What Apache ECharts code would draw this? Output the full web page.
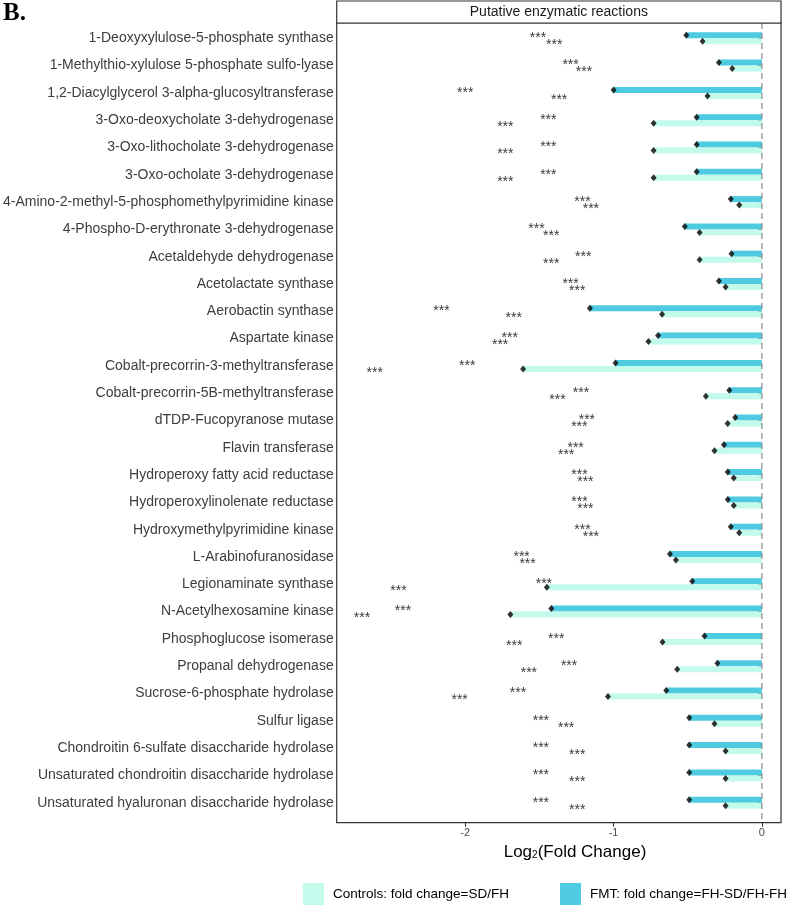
<!DOCTYPE html>
<html>
<head>
<meta charset="utf-8">
<script src="https://cdn.jsdelivr.net/npm/echarts@6/dist/echarts.min.js"></script>
<style>html,body{margin:0;padding:0;background:#fff}#c{width:792px;height:906px}</style>
</head>
<body>
<div id="c"></div>
<script>
const categories = [
  '1-Deoxyxylulose-5-phosphate synthase',
  '1-Methylthio-xylulose 5-phosphate sulfo-lyase',
  '1,2-Diacylglycerol 3-alpha-glucosyltransferase',
  '3-Oxo-deoxycholate 3-dehydrogenase',
  '3-Oxo-lithocholate 3-dehydrogenase',
  '3-Oxo-ocholate 3-dehydrogenase',
  '4-Amino-2-methyl-5-phosphomethylpyrimidine kinase',
  '4-Phospho-D-erythronate 3-dehydrogenase',
  'Acetaldehyde dehydrogenase',
  'Acetolactate synthase',
  'Aerobactin synthase',
  'Aspartate kinase',
  'Cobalt-precorrin-3-methyltransferase',
  'Cobalt-precorrin-5B-methyltransferase',
  'dTDP-Fucopyranose mutase',
  'Flavin transferase',
  'Hydroperoxy fatty acid reductase',
  'Hydroperoxylinolenate reductase',
  'Hydroxymethylpyrimidine kinase',
  'L-Arabinofuranosidase',
  'Legionaminate synthase',
  'N-Acetylhexosamine kinase',
  'Phosphoglucose isomerase',
  'Propanal dehydrogenase',
  'Sucrose-6-phosphate hydrolase',
  'Sulfur ligase',
  'Chondroitin 6-sulfate disaccharide hydrolase',
  'Unsaturated chondroitin disaccharide hydrolase',
  'Unsaturated hyaluronan disaccharide hydrolase'
];
const fmtValues = [
  -0.51, -0.29, -1.00, -0.44, -0.44, -0.44, -0.21, -0.52, -0.205, -0.29,
  -1.16, -0.70, -0.987, -0.22, -0.18, -0.256, -0.23, -0.23, -0.21, -0.62,
  -0.47, -1.42, -0.387, -0.30, -0.645, -0.49, -0.49, -0.49, -0.49
];
const controlValues = [
  -0.40, -0.20, -0.367, -0.73, -0.73, -0.73, -0.153, -0.42, -0.42, -0.245,
  -0.673, -0.765, -1.61, -0.378, -0.231, -0.32, -0.19, -0.19, -0.153, -0.58,
  -1.45, -1.696, -0.67, -0.571, -1.038, -0.32, -0.245, -0.245, -0.245
];
const xTicks = [-2, -1, 0];
const sigLabel = '***';
const STAR_SHIFT = 1; // significance marks drawn 1 log2 unit left of each value
const seriesNames = ['Controls: fold change=SD/FH', 'FMT: fold change=FH-SD/FH-FH'];

const LIGHT = '#c2faec';
const DARK = '#4ecbe0';
const FONT = 'Liberation Sans, Arial, sans-serif';

const chart = echarts.init(document.getElementById('c'), null, {renderer: 'canvas'});

const panel = {x: 336.7, y: 23, w: 444.3, h: 799.7};

const legendCommon = {
  top: 883, padding: 0, itemWidth: 21, itemHeight: 22, width: 300,
  textStyle: {fontSize: 13.5, fontFamily: FONT, color: '#000', padding: [0, 0, 0, 4]},
  selectedMode: false
};

const option = {
  animation: false,
  backgroundColor: '#fff',
  grid: {left: 336.7, right: 792 - 781, top: 24.65, bottom: 906 - 816.35, containLabel: false},
  xAxis: {
    type: 'value', min: -2.833, max: 0.1287, offset: 6.35,
    axisLine: {show: false},
    splitLine: {show: false},
    axisTick: {show: true, length: 4, customValues: xTicks, lineStyle: {color: '#333'}},
    axisLabel: {customValues: xTicks, color: '#4d4d4d', fontSize: 11, fontFamily: FONT, margin: 5,
      formatter: v => String(v)}
  },
  yAxis: {
    type: 'category', inverse: true, data: categories,
    axisLine: {show: false},
    axisTick: {show: true, alignWithLabel: true, length: 4, lineStyle: {color: '#333'}},
    axisLabel: {color: '#3d3d3d', fontSize: 14, fontFamily: FONT, margin: 8},
    splitLine: {show: false}
  },
  legend: [
    Object.assign({}, legendCommon, {left: 303,
      data: [{name: seriesNames[0], icon: 'rect', itemStyle: {color: LIGHT}}]}),
    Object.assign({}, legendCommon, {left: 560,
      data: [{name: seriesNames[1], icon: 'rect', itemStyle: {color: DARK}}]})
  ],
  series: [
    {name: seriesNames[1], type: 'bar', data: fmtValues, barWidth: 6, barGap: '0%',
      itemStyle: {color: DARK}, z: 2},
    {name: seriesNames[0], type: 'bar', data: controlValues, barWidth: 6, barGap: '0%',
      itemStyle: {color: LIGHT}, z: 2},
    {type: 'scatter', data: fmtValues.map((v, i) => [v, i]), symbol: 'diamond', symbolSize: [6, 7],
      symbolOffset: [0, -3], itemStyle: {color: '#000'}, z: 5},
    {type: 'scatter', data: controlValues.map((v, i) => [v, i]), symbol: 'diamond', symbolSize: [6, 7],
      symbolOffset: [0, 3], itemStyle: {color: '#000'}, z: 5},
    {type: 'scatter', data: fmtValues.map((v, i) => [v - STAR_SHIFT, i]), symbolSize: 0.01,
      label: {show: true, position: 'inside', offset: [0, 0], formatter: sigLabel, fontSize: 14, fontFamily: FONT, color: '#000'}, z: 6},
    {type: 'scatter', data: controlValues.map((v, i) => [v - STAR_SHIFT, i]), symbolSize: 0.01,
      label: {show: true, position: 'inside', offset: [0, 7], formatter: sigLabel, fontSize: 14, fontFamily: FONT, color: '#000'}, z: 6}
  ]
};
chart.setOption(option);

const x0 = chart.convertToPixel({xAxisIndex: 0}, 0);
chart.setOption({
  graphic: [
    {type: 'rect', shape: {x: panel.x, y: panel.y, width: panel.w, height: panel.h},
      style: {fill: 'none', stroke: '#333', lineWidth: 1.2}, z: 10, silent: true},
    {type: 'rect', shape: {x: panel.x, y: 1, width: panel.w, height: 22},
      style: {fill: '#fff', stroke: '#333', lineWidth: 1.2}, z: 10, silent: true},
    {type: 'text', x: panel.x + panel.w / 2, y: 12,
      style: {text: 'Putative enzymatic reactions', fill: '#1a1a1a', font: '14px ' + FONT, textAlign: 'center', textVerticalAlign: 'middle'}, z: 11},
    {type: 'line', shape: {x1: x0, y1: panel.y, x2: x0, y2: panel.y + panel.h},
      style: {stroke: '#888', lineWidth: 1.2, lineDash: [6, 4]}, z: 9, silent: true},
    {type: 'text', x: 3, y: 14,
      style: {text: 'B.', fill: '#000', font: 'bold 25px Liberation Serif, Times New Roman, serif', textAlign: 'left', textVerticalAlign: 'middle'}, z: 11},
    {type: 'text', x: 575, y: 852,
      style: {text: 'Log{s|2}(Fold Change)', fill: '#000', font: '17px ' + FONT, textAlign: 'center', textVerticalAlign: 'middle',
        rich: {s: {fontSize: 10, fontFamily: FONT, fill: '#000', padding: [6, 0, 0, 0]}}}, z: 11}
  ]
});
</script>
</body>
</html>
